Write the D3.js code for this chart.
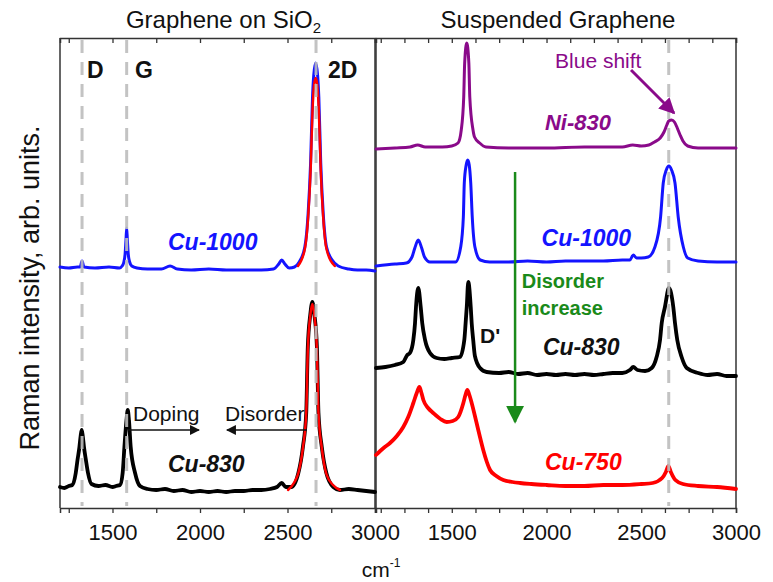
<!DOCTYPE html>
<html><head><meta charset="utf-8">
<script src="https://cdn.jsdelivr.net/npm/d3@7"></script>
<style>body{margin:0;background:#fff}svg{display:block}text{font-family:"Liberation Sans",Arial,sans-serif}</style>
</head><body><svg id="c" width="773" height="582"></svg>
<script>
// ---------- data ----------
const panelTitles = ["Graphene on SiO", "Suspended Graphene"];
const leftTicks = [1250,1500,1750,2000,2250,2500,2750,3000];
const rightTicks = [1125,1250,1375,1500,1625,1750,1875,2000,2125,2250,2375,2500,2625,2750,2875,3000];
const labeledTicks = [1500,2000,2500,3000];
const leftDashes = [1326,1581,2663];
const rightDashes = [2645];

// Graphene on SiO2
const leftCu1000 = [[1200,241],[1250,240],[1300,241],[1315,241],[1326,247],[1337,241],[1400,240],[1480,241],[1540,240],[1555,242],[1565,246],[1572,254],[1577,268],[1581,280],[1585,268],[1590,254],[1598,246],[1610,242],[1640,240],[1700,239],[1780,239],[1829,242],[1870,239],[1950,238],[2050,239],[2150,238],[2250,238],[2350,238],[2420,239],[2450,244],[2467,248],[2485,244],[2510,240],[2540,241],[2567,246],[2599,261],[2618,295],[2632,345],[2643,411],[2650,433],[2661,445],[2672,433],[2679,411],[2690,345],[2704,295],[2723,261],[2755,248],[2790,242],[2850,239],[2900,238],[2950,238],[3000,237]];
const leftCu1000Fit = [[2560,242],[2599,259],[2618,291],[2632,338],[2643,398],[2652,423],[2661,430],[2670,423],[2679,398],[2690,338],[2704,291],[2723,259],[2770,242]];
const leftCu830 = [[1200,21],[1225,20],[1250,22],[1270,23],[1290,35],[1300,48],[1311,61],[1318,72],[1324,78],[1330,72],[1337,61],[1348,48],[1360,35],[1380,24],[1420,22],[1460,23],[1500,21],[1520,22],[1543,23],[1558,35],[1568,61],[1580,88],[1587,98],[1594,88],[1604,61],[1629,35],[1657,22],[1700,19],[1750,18],[1800,19],[1850,17],[1900,18],[1950,16],[2000,17],[2050,16],[2100,17],[2150,16],[2200,17],[2250,17],[2300,18],[2350,18],[2400,19],[2440,21],[2467,25],[2490,21],[2522,21],[2562,35],[2588,61],[2607,95],[2616,161],[2630,193],[2642,206],[2654,193],[2668,161],[2677,95],[2696,61],[2722,35],[2762,21],[2800,18],[2850,19],[2900,18],[2950,17],[3000,16]];
const leftCu830Fit = [[2503,18],[2540,26],[2562,35],[2588,60],[2607,95],[2616,158],[2630,192],[2642,204],[2654,192],[2668,158],[2677,95],[2696,60],[2722,34],[2760,23],[2800,18]];

// Suspended graphene
const rightNi830 = [[1100,359],[1200,360],[1280,361],[1320,363],[1360,361],[1450,361],[1500,362],[1533,365],[1550,378],[1563,411],[1568,445],[1579,465],[1590,445],[1595,411],[1612,378],[1620,371],[1647,365],[1680,361],[1800,360],[2000,360],[2200,361],[2400,361],[2455,363],[2500,362],[2540,363],[2570,366],[2600,370],[2620,376],[2635,383],[2645,387],[2660,388],[2675,386],[2690,380],[2705,373],[2720,367],[2745,362],[2800,360],[3000,360]];
const rightCu1000 = [[1100,242],[1200,244],[1260,245],[1290,251],[1305,260],[1323,268],[1341,260],[1356,251],[1385,246],[1450,246],[1520,246],[1547,261],[1561,291],[1566,325],[1576,343],[1584,348],[1592,343],[1600,325],[1608,291],[1622,261],[1650,248],[1700,246],[1800,246],[1900,247],[2000,246],[2100,247],[2200,247],[2300,247],[2400,248],[2440,248],[2458,253],[2475,250],[2500,250],[2537,251],[2572,261],[2602,291],[2616,325],[2632,338],[2646,342],[2660,338],[2678,325],[2695,291],[2722,261],[2745,250],[2800,247],[2900,246],[3000,246]];
const rightCu830 = [[1100,140],[1150,141],[1200,143],[1244,146],[1265,153],[1279,155],[1297,168],[1306,185],[1311,201],[1323,220],[1336,201],[1344,185],[1359,168],[1385,155],[1420,150],[1460,149],[1500,150],[1543,151],[1566,168],[1573,185],[1579,201],[1587,226],[1600,201],[1605,185],[1613,168],[1622,152],[1649,140],[1684,136],[1750,135],[1800,136],[1850,134],[1900,135],[1950,133],[2000,134],[2050,133],[2100,134],[2150,133],[2200,134],[2250,133],[2300,134],[2350,135],[2400,135],[2440,138],[2458,141],[2480,138],[2520,137],[2555,140],[2581,151],[2599,168],[2608,185],[2625,201],[2646,220],[2669,201],[2678,185],[2690,168],[2713,151],[2740,140],[2800,135],[2850,133],[2900,134],[2950,132],[3000,132]];
const rightCu750 = [[1100,53],[1140,60],[1174,65],[1210,72],[1244,81],[1270,91],[1297,105],[1315,115],[1329,121],[1340,115],[1350,108],[1375,100],[1402,95],[1440,89],[1473,86],[1505,87],[1534,91],[1561,105],[1572,113],[1582,118],[1593,113],[1605,105],[1631,85],[1650,70],[1666,58],[1685,46],[1702,38],[1735,32],[1772,28],[1820,26],[1860,25],[1920,24],[2000,23],[2100,22],[2200,22],[2300,23],[2400,23],[2500,24],[2560,25],[2610,30],[2630,36],[2643,42],[2656,36],[2680,28],[2720,24],[2800,22],[2900,21],[3000,19]];

// ---------- layout ----------
const svg = d3.select("#c");
const yTop = 38, yBot = 508;
const xL = d3.scaleLinear().domain([1200,3000]).range([60,375]);
const xR = d3.scaleLinear().domain([1100,3000]).range([376,736]);
const y = d3.scaleLinear().domain([0,470]).range([yBot,yTop]);

const colors = {blue:"#1414ff", red:"#ff0000", black:"#000", purple:"#8a0a8a", green:"#1a8a1a", dash:"#bdbdbd", frame:"#333"};

function frame(x){
  const g = svg.append("g");
  const bx = d3.axisBottom(x).tickValues(x===xL?leftTicks:rightTicks).tickSize(5).tickPadding(11)
    .tickFormat(d => labeledTicks.includes(d) ? d : "");
  const ga = g.append("g").attr("transform",`translate(0,${yBot})`).call(bx);
  ga.selectAll("text").attr("font-size",22).attr("fill","#111").style("font-family",'"Liberation Sans",Arial,sans-serif');
  const tx = d3.axisTop(x).tickValues(x===xL?leftTicks:rightTicks).tickSize(-5).tickFormat("");
  g.append("g").attr("transform",`translate(0,${yTop})`).call(tx);
  g.selectAll(".domain").attr("stroke",colors.frame).attr("stroke-width",1.5);
  g.selectAll(".tick line").attr("stroke",colors.frame).attr("stroke-width",1.3);
  const [a,b] = x.range();
  g.append("line").attr("x1",a).attr("x2",a).attr("y1",yTop).attr("y2",yBot).attr("stroke",colors.frame).attr("stroke-width",1.5);
  g.append("line").attr("x1",b).attr("x2",b).attr("y1",yTop).attr("y2",yBot).attr("stroke",colors.frame).attr("stroke-width",1.5);
}
frame(xL); frame(xR);

function spec(x, data, color, w){
  const line = d3.line().x(d=>x(d[0])).y(d=>y(d[1])).curve(d3.curveMonotoneX);
  svg.append("path").datum(data).attr("d",line).attr("fill","none").attr("stroke",color)
    .attr("stroke-width",w).attr("stroke-linejoin","round").attr("stroke-linecap","round");
}
spec(xL, leftCu1000, colors.blue, 3);
spec(xL, leftCu1000Fit, colors.red, 2.5);
spec(xL, leftCu830, colors.black, 3.8);
spec(xL, leftCu830Fit, colors.red, 2.5);
spec(xR, rightNi830, colors.purple, 3);
spec(xR, rightCu1000, colors.blue, 3);
spec(xR, rightCu830, colors.black, 3.8);
spec(xR, rightCu750, colors.red, 3.8);

// dashed guide lines
function dashes(x, arr){
  svg.append("g").selectAll("line").data(arr).join("line")
    .attr("x1",d=>x(d)).attr("x2",d=>x(d)).attr("y1",yTop+2).attr("y2",yBot-2)
    .attr("stroke",colors.dash).attr("stroke-width",3).attr("stroke-dasharray","13,9").attr("opacity",0.9);
}
dashes(xL, leftDashes); dashes(xR, rightDashes);

// arrow markers
const defs = svg.append("defs");
function marker(id, color, size){
  defs.append("marker").attr("id",id).attr("viewBox","0 0 10 10").attr("refX",9).attr("refY",5)
    .attr("markerWidth",size).attr("markerHeight",size).attr("markerUnits","userSpaceOnUse").attr("orient","auto")
    .append("path").attr("d","M0,0L10,5L0,10Z").attr("fill",color);
}
marker("mBlack","#111",10); marker("mPurple",colors.purple,16); marker("mGreen",colors.green,18);

function arrow(x, p0, p1, color, w, m){
  svg.append("line").attr("x1",x(p0[0])).attr("y1",y(p0[1])).attr("x2",x(p1[0])).attr("y2",y(p1[1]))
    .attr("stroke",color).attr("stroke-width",w).attr("marker-end",`url(#${m})`);
}
arrow(xL,[1589,78],[1994,78],"#111",1.5,"mBlack");
arrow(xL,[2611,78],[2154,78],"#111",1.5,"mBlack");
arrow(xR,[2446,438],[2673,395],colors.purple,3,"mPurple");
arrow(xR,[1834,336],[1834,86],colors.green,2.5,"mGreen");

// text
function label(x, wn, v, txt, o){
  o = o||{};
  svg.append("text").attr("x",x(wn)).attr("y",y(v)).text(txt)
    .attr("font-size",o.size||22).attr("font-weight",o.bold?"bold":"normal")
    .attr("font-style",o.italic?"italic":"normal").attr("fill",o.color||"#111")
    .attr("text-anchor",o.anchor||"start");
}
label(xL,1354,430,"D",{bold:true,size:23});
label(xL,1629,430,"G",{bold:true,size:23});
label(xL,2731,430,"2D",{bold:true,size:23});
label(xL,1817,258,"Cu-1000",{bold:true,italic:true,color:colors.blue,size:23});
label(xL,1817,36,"Cu-830",{bold:true,italic:true,size:23});
label(xL,1617,87,"Doping",{size:21});
label(xL,2143,87,"Disorder",{size:21});

label(xR,2045,440,"Blue shift",{size:21,color:colors.purple});
label(xR,2340,378,"Ni-830",{bold:true,italic:true,color:colors.purple,anchor:"end"});
label(xR,1974,262,"Cu-1000",{bold:true,italic:true,color:colors.blue,size:23});
label(xR,1869,220,"Disorder",{bold:true,color:colors.green,size:20});
label(xR,1869,193,"increase",{bold:true,color:colors.green,size:20});
label(xR,1649,165,"D'",{bold:true,size:21});
label(xR,1981,153,"Cu-830",{bold:true,italic:true,size:23});
label(xR,1992,38,"Cu-750",{bold:true,italic:true,color:colors.red,size:23});

// titles
const t1 = svg.append("text").attr("x",(xL.range()[0]+xL.range()[1])/2+6).attr("y",28).attr("text-anchor","middle").attr("font-size",24).attr("fill","#111");
t1.append("tspan").text(panelTitles[0]);
t1.append("tspan").text("2").attr("font-size",15).attr("dy",5);
svg.append("text").attr("x",(xR.range()[0]+xR.range()[1])/2+2).attr("y",28).attr("text-anchor","middle").attr("font-size",24).attr("fill","#111").text(panelTitles[1]);

// axis titles
svg.append("text").attr("transform",`translate(39,288) rotate(-90)`).attr("text-anchor","middle")
  .attr("font-size",27).attr("fill","#111").text("Raman intensity, arb. units.");
const xt = svg.append("text").attr("x",381).attr("y",577).attr("text-anchor","middle").attr("font-size",21).attr("fill","#111");
xt.append("tspan").text("cm");
xt.append("tspan").text("-1").attr("font-size",12).attr("dy",-10);
</script></body></html>
